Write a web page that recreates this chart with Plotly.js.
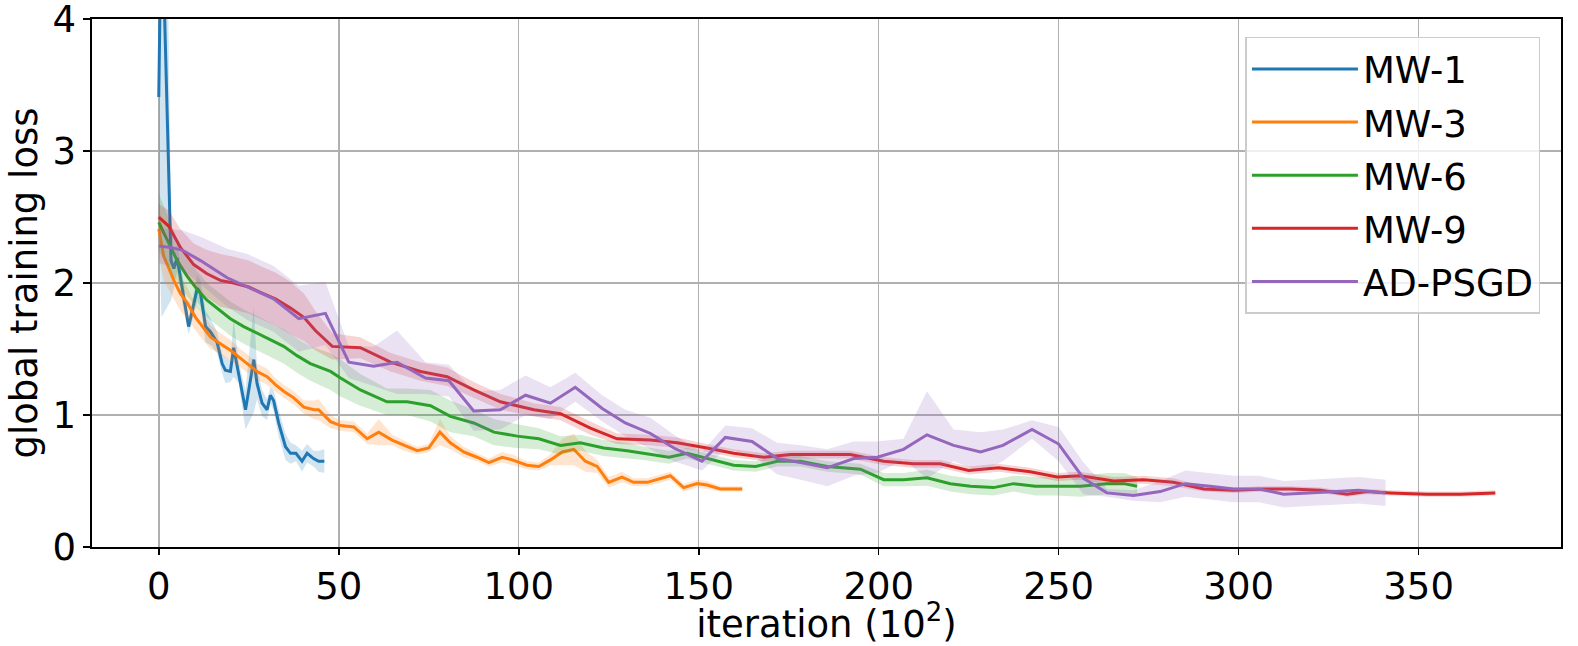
<!DOCTYPE html>
<html>
<head>
<meta charset="utf-8">
<script src="https://cdn.plot.ly/plotly-3.0.1.min.js"></script>
<style>html,body{margin:0;padding:0;background:#fff;}#chart{width:1578px;height:646px;}</style>
</head>
<body>
<div id="chart"></div>
<script>
// ---- data (iteration in units of 10^2, loss mean and spread) ----
const seriesNames = ["MW-1", "MW-3", "MW-6", "MW-9", "AD-PSGD"];
const seriesColors = ["#1f77b4", "#ff7f0e", "#2ca02c", "#d62728", "#9467bd"];
const bandColors = ["rgba(31,119,180,0.2)", "rgba(255,127,14,0.2)", "rgba(44,160,44,0.2)", "rgba(214,39,40,0.2)", "rgba(148,103,189,0.2)"];

const mw1X = [0, 0.75, 3.4, 4.2, 5.1, 6.5, 8.3, 10.7, 11.6, 13.0, 14.4, 16.2, 17.6, 18.5, 19.9, 20.8, 22.2, 24.1, 26.4, 27.3, 28.7, 30.1, 31.0, 31.9, 33.3, 35.2, 36.6, 38.1, 39.8, 41.2, 43.0, 44.4, 46.0];
const mw1Y = [3.41, 4.94, 2.17, 2.11, 2.19, 1.97, 1.67, 1.96, 1.92, 1.67, 1.63, 1.55, 1.39, 1.34, 1.33, 1.51, 1.32, 1.04, 1.42, 1.24, 1.09, 1.04, 1.15, 1.11, 0.94, 0.76, 0.71, 0.71, 0.65, 0.71, 0.67, 0.65, 0.65];
const mw1S = [0.9, 3.2, 0.3, 0.15, 0.1, 0.12, 0.06, 0.1, 0.1, 0.12, 0.1, 0.08, 0.07, 0.1, 0.08, 0.22, 0.08, 0.15, 0.4, 0.12, 0.1, 0.08, 0.06, 0.08, 0.1, 0.1, 0.08, 0.06, 0.08, 0.07, 0.06, 0.08, 0.09];

const mw3X = [0, 1.4, 2.8, 4.2, 6.0, 7.9, 10.2, 12.5, 14.4, 17.1, 19.9, 22.2, 24.6, 27.3, 30.1, 32.4, 34.7, 37.5, 40.3, 43.1, 44.4, 47.7, 50.5, 54.2, 57.9, 61.1, 64.8, 68.1, 71.8, 75.0, 78.1, 81.0, 84.7, 88.4, 91.7, 95.4, 98.2, 102.3, 105.6, 108.8, 112.1, 115.3, 118.5, 121.8, 125.0, 128.7, 131.9, 135.7, 142.1, 145.8, 149.6, 152.3, 156.0, 158.8, 162.1];
const mw3Y = [2.41, 2.20, 2.11, 2.02, 1.92, 1.85, 1.74, 1.66, 1.59, 1.54, 1.49, 1.44, 1.39, 1.33, 1.29, 1.23, 1.18, 1.13, 1.06, 1.04, 1.04, 0.95, 0.92, 0.91, 0.82, 0.87, 0.81, 0.77, 0.73, 0.75, 0.87, 0.79, 0.72, 0.68, 0.64, 0.68, 0.66, 0.62, 0.61, 0.66, 0.72, 0.74, 0.65, 0.61, 0.49, 0.53, 0.49, 0.49, 0.54, 0.45, 0.48, 0.47, 0.44, 0.44, 0.44];
const mw3S = [0.2, 0.18, 0.16, 0.14, 0.13, 0.12, 0.1, 0.1, 0.09, 0.08, 0.08, 0.07, 0.07, 0.06, 0.06, 0.05, 0.05, 0.05, 0.05, 0.07, 0.08, 0.05, 0.04, 0.04, 0.04, 0.1, 0.04, 0.04, 0.03, 0.03, 0.1, 0.05, 0.04, 0.03, 0.03, 0.04, 0.04, 0.03, 0.03, 0.04, 0.1, 0.12, 0.08, 0.05, 0.04, 0.04, 0.03, 0.03, 0.03, 0.03, 0.03, 0.03, 0.02, 0.02, 0.02];

const mw6X = [0, 1.4, 3.25, 5.1, 7.9, 10.7, 13.4, 16.2, 19.9, 23.6, 27.3, 31.0, 34.7, 38.4, 42.1, 47.7, 50.5, 56.0, 63.4, 69.0, 75.5, 81.0, 87.5, 93.1, 99.6, 105.6, 111.6, 117.1, 123.6, 130.1, 134.7, 141.7, 146.8, 152.3, 159.7, 165.8, 171.8, 178.3, 185.7, 194.9, 201.4, 206.9, 213.4, 219.9, 225.5, 231.9, 237.5, 243.5, 249.6, 256.0, 263.4, 268.1, 271.8];
const mw6Y = [2.46, 2.38, 2.27, 2.17, 2.05, 1.95, 1.87, 1.81, 1.73, 1.67, 1.62, 1.57, 1.52, 1.45, 1.39, 1.33, 1.28, 1.19, 1.10, 1.10, 1.07, 0.99, 0.94, 0.87, 0.84, 0.82, 0.77, 0.79, 0.75, 0.73, 0.71, 0.68, 0.71, 0.67, 0.62, 0.61, 0.65, 0.65, 0.61, 0.59, 0.51, 0.51, 0.525, 0.48, 0.46, 0.45, 0.48, 0.46, 0.46, 0.46, 0.48, 0.48, 0.46];
const mw6S = [0.22, 0.2, 0.18, 0.16, 0.15, 0.14, 0.13, 0.13, 0.13, 0.13, 0.13, 0.13, 0.13, 0.13, 0.13, 0.14, 0.14, 0.12, 0.1, 0.1, 0.12, 0.12, 0.1, 0.1, 0.09, 0.08, 0.07, 0.06, 0.06, 0.06, 0.05, 0.05, 0.04, 0.04, 0.04, 0.04, 0.04, 0.04, 0.04, 0.04, 0.05, 0.05, 0.06, 0.06, 0.06, 0.06, 0.06, 0.07, 0.07, 0.08, 0.08, 0.08, 0.07];

const mw9X = [0, 2.8, 6.0, 9.7, 13.4, 17.1, 20.8, 25.0, 28.2, 32.4, 36.6, 40.3, 43.5, 48.2, 56.0, 64.4, 72.7, 80.1, 87.5, 94.9, 104.2, 111.6, 119.9, 127.3, 136.6, 144.0, 152.3, 159.7, 168.1, 175.5, 183.8, 192.1, 201.4, 209.7, 217.1, 225.0, 233.3, 242.1, 249.6, 256.0, 265.3, 273.6, 281.9, 290.3, 298.6, 306.9, 314.4, 322.7, 330.1, 335.7, 342.1, 352.3, 361.6, 371.3];
const mw9Y = [2.50, 2.43, 2.27, 2.14, 2.07, 2.02, 2.00, 1.97, 1.93, 1.88, 1.81, 1.74, 1.64, 1.52, 1.51, 1.40, 1.33, 1.29, 1.19, 1.10, 1.04, 1.01, 0.90, 0.82, 0.81, 0.79, 0.75, 0.71, 0.68, 0.70, 0.70, 0.70, 0.65, 0.63, 0.63, 0.58, 0.60, 0.57, 0.53, 0.54, 0.50, 0.51, 0.49, 0.44, 0.43, 0.44, 0.44, 0.43, 0.40, 0.42, 0.41, 0.40, 0.40, 0.41];
const mw9S = [0.1, 0.12, 0.14, 0.16, 0.18, 0.2, 0.2, 0.2, 0.2, 0.2, 0.2, 0.18, 0.15, 0.1, 0.08, 0.07, 0.07, 0.07, 0.06, 0.06, 0.05, 0.05, 0.05, 0.04, 0.04, 0.04, 0.03, 0.03, 0.03, 0.03, 0.03, 0.03, 0.03, 0.03, 0.03, 0.03, 0.03, 0.03, 0.03, 0.03, 0.03, 0.03, 0.03, 0.02, 0.02, 0.02, 0.02, 0.02, 0.02, 0.02, 0.02, 0.02, 0.02, 0.02];

const adX = [0, 3.25, 6.5, 11.6, 19.0, 24.6, 31.9, 38.9, 46.3, 52.8, 59.7, 66.2, 74.1, 80.6, 87.5, 94.9, 101.9, 108.8, 115.7, 123.2, 129.6, 136.6, 143.1, 150.9, 157.4, 164.8, 171.8, 178.3, 185.7, 193.1, 199.6, 206.9, 213.4, 220.8, 228.3, 234.5, 242.6, 250.0, 256.9, 263.4, 270.8, 278.2, 285.2, 292.1, 298.6, 305.6, 312.5, 319.4, 326.4, 333.3, 340.8];
const adY = [2.28, 2.27, 2.25, 2.17, 2.04, 1.97, 1.88, 1.73, 1.77, 1.40, 1.37, 1.40, 1.28, 1.26, 1.03, 1.04, 1.15, 1.09, 1.21, 1.05, 0.94, 0.86, 0.75, 0.65, 0.83, 0.80, 0.67, 0.64, 0.60, 0.67, 0.68, 0.74, 0.85, 0.77, 0.72, 0.77, 0.89, 0.78, 0.52, 0.41, 0.39, 0.42, 0.48, 0.46, 0.44, 0.44, 0.40, 0.41, 0.42, 0.43, 0.41];
const adS = [0.13, 0.14, 0.15, 0.18, 0.22, 0.25, 0.25, 0.25, 0.24, 0.12, 0.15, 0.24, 0.12, 0.12, 0.15, 0.15, 0.15, 0.12, 0.11, 0.1, 0.1, 0.12, 0.1, 0.07, 0.09, 0.1, 0.12, 0.13, 0.14, 0.13, 0.12, 0.08, 0.33, 0.12, 0.15, 0.12, 0.07, 0.13, 0.12, 0.03, 0.04, 0.08, 0.1, 0.1, 0.1, 0.1, 0.1, 0.1, 0.1, 0.1, 0.1];

const xTickVals = [0, 50, 100, 150, 200, 250, 300, 350];
const yTickVals = [0, 1, 2, 3, 4];

// ---- build traces ----
const allX = [mw1X, mw3X, mw6X, mw9X, adX];
const allY = [mw1Y, mw3Y, mw6Y, mw9Y, adY];
const allS = [mw1S, mw3S, mw6S, mw9S, adS];

const traces = [];
for (let i = 0; i < seriesNames.length; i++) {
  const xs = allX[i], ys = allY[i], ss = allS[i];
  const upper = ys.map((v, k) => v + ss[k]);
  const lower = ys.map((v, k) => v - ss[k]);
  traces.push({x: xs, y: upper, type: "scatter", mode: "lines", line: {width: 0, color: bandColors[i]},
    showlegend: false, hoverinfo: "skip", legendgroup: seriesNames[i]});
  traces.push({x: xs, y: lower, type: "scatter", mode: "lines", line: {width: 0, color: bandColors[i]},
    fill: "tonexty", fillcolor: bandColors[i], showlegend: false, hoverinfo: "skip", legendgroup: seriesNames[i]});
  traces.push({x: xs, y: ys, type: "scatter", mode: "lines", name: seriesNames[i],
    line: {width: 3, color: seriesColors[i]}, legendgroup: seriesNames[i]});
}

const FONT = "DejaVu Sans, Liberation Sans, sans-serif";
const FS = 37;
const layout = {
  width: 1578, height: 646,
  margin: {l: 92, r: 17, t: 19, b: 99, pad: 0},
  paper_bgcolor: "#ffffff", plot_bgcolor: "#ffffff",
  font: {family: FONT, size: FS, color: "#000000"},
  showlegend: true,
  xaxis: {
    range: [-18.55, 389.55], tickvals: xTickVals, ticktext: xTickVals.map(String),
    showgrid: true, gridcolor: "#b0b0b0", gridwidth: 1.5, zeroline: false,
    showline: true, linecolor: "#000000", linewidth: 1.6, mirror: true,
    ticks: "outside", ticklen: 6, tickwidth: 1.6, tickcolor: "#000000",
    tickfont: {family: FONT, size: FS, color: "#000000"},
    title: {text: "iteration (10<sup>2</sup>)", font: {family: FONT, size: FS, color: "#000000"}, standoff: 4},
    automargin: false
  },
  yaxis: {
    range: [0, 4.0005], tickvals: yTickVals, ticktext: yTickVals.map(String),
    showgrid: true, gridcolor: "#b0b0b0", gridwidth: 1.5, zeroline: false,
    showline: true, linecolor: "#000000", linewidth: 1.6, mirror: true,
    ticks: "outside", ticklen: 7, tickwidth: 1.6, tickcolor: "#000000",
    tickfont: {family: FONT, size: FS, color: "#000000"},
    ticklabeloverflow: "allow",
    title: {text: "global training loss", font: {family: FONT, size: FS, color: "#000000"}, standoff: 3},
    automargin: false
  },
  legend: {
    x: 0.986, y: 0.966, xanchor: "right", yanchor: "top",
    bgcolor: "rgba(255,255,255,0.8)", bordercolor: "#cccccc", borderwidth: 1.5,
    font: {family: FONT, size: FS, color: "#000000"},
    itemwidth: 106, tracegroupgap: 2
  }
};

Plotly.newPlot("chart", traces, layout, {staticPlot: true, displayModeBar: false});
</script>
</body>
</html>
